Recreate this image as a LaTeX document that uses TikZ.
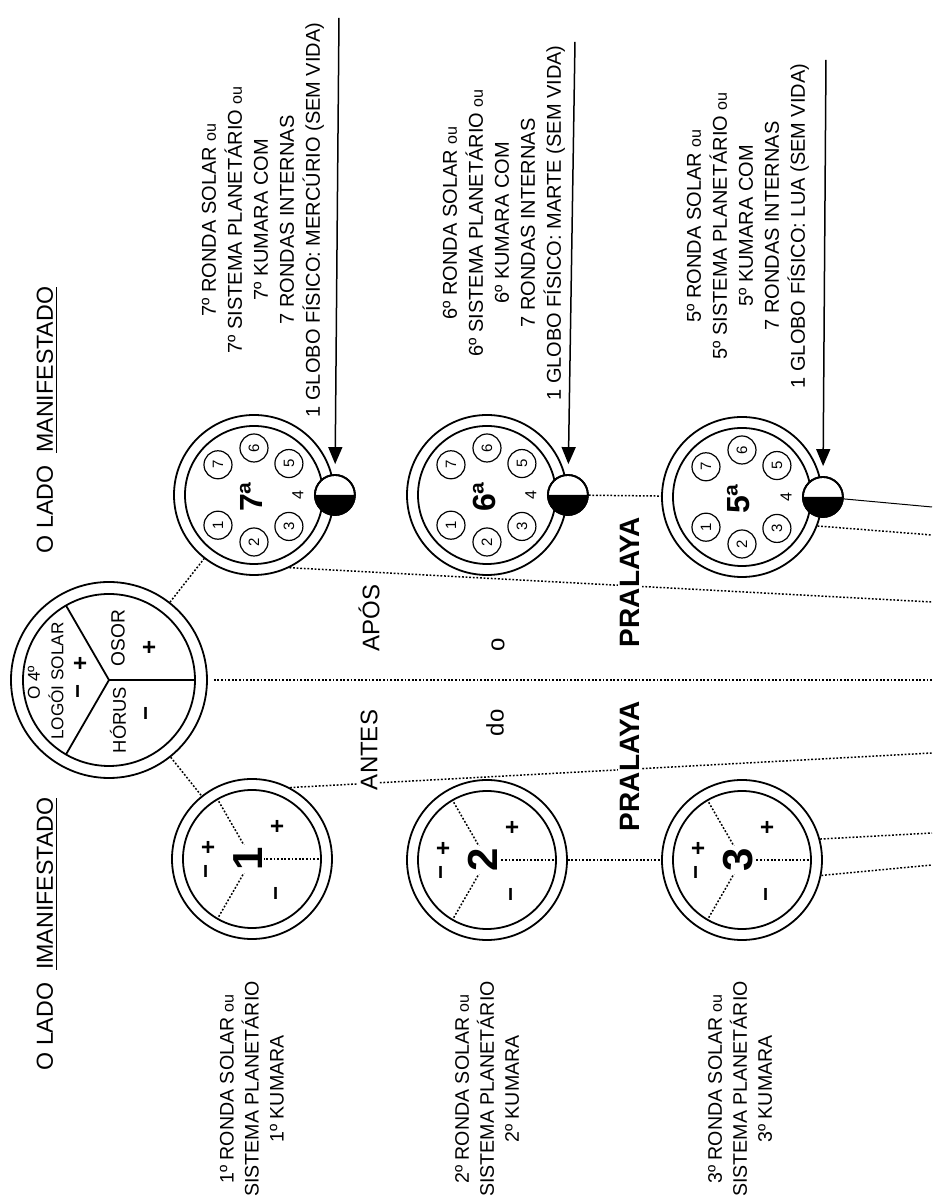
\documentclass[tikz,border=0pt]{standalone}
\usepackage{fontspec}
\setmainfont{Liberation Sans}
\usetikzlibrary{arrows.meta}
\newcommand\smallou{{\fontsize{8pt}{8pt}\selectfont ou}}
\tikzset{
  ring/.style={draw, circle, line width=0.9pt, minimum size=80pt, inner sep=0pt, fill=white},
  bigring/.style={draw, circle, line width=0.9pt, minimum size=98pt, inner sep=0pt, fill=white},
  dotl/.style={line width=0.75pt, dash pattern=on 0.9pt off 0.9pt},
  num/.style={draw, circle, line width=0.6pt, minimum size=14pt, inner sep=0pt, font=\fontsize{7.5pt}{8pt}\selectfont},
  numtxt/.style={inner sep=0pt, font=\fontsize{8pt}{8pt}\selectfont},
  bigdig/.style={inner sep=0pt, font=\bfseries\fontsize{16pt}{16pt}\selectfont},
  leftdig/.style={inner sep=1pt, fill=white, font=\bfseries\fontsize{21pt}{21pt}\selectfont},
  lbl/.style={align=center, inner sep=0pt, font=\fontsize{9.8pt}{12.5pt}\selectfont},
  rlbl/.style={align=center, inner sep=0pt, font=\fontsize{10pt}{13pt}\selectfont},
  ttl/.style={inner sep=0pt, font=\fontsize{11.6pt}{14pt}\selectfont},
  mid/.style={inner sep=1pt, fill=white, font=\fontsize{12pt}{14pt}\selectfont},
  prl/.style={inner sep=1pt, fill=white, font=\bfseries\fontsize{14pt}{16pt}\selectfont},
  sign/.style={inner sep=0pt, font=\bfseries\fontsize{12pt}{12pt}\selectfont},
  small/.style={inner sep=0pt, font=\fontsize{8.6pt}{10pt}\selectfont},
  globe/.style={draw, circle, line width=0.9pt, minimum size=20pt, inner sep=0pt, fill=white},
  arr/.style={line width=0.75pt, -{Triangle[length=8.5pt,width=7pt]}, shorten >=5pt},
}
\begin{document}
\begin{tikzpicture}[x=0.5pt,y=0.5pt]
\begin{scope}[rotate=90, transform shape]
\useasboundingbox (0,0) rectangle (1204,932);
\fill[white] (0,0) rectangle (1204,932);

% titles
\node[ttl] (t1) at (784,885) {O LADO\ \ \underline{MANIFESTADO}};
\node[ttl] (t2) at (270,885) {O LADO\ \ \underline{IMANIFESTADO}};

% central circle
\node[bigring] (C0) at (524,823) {};
\draw[line width=0.9pt] (C0.center) circle[radius=86];
\foreach \a in {30,150,270} \draw[line width=0.9pt] (C0.center) -- ++(\a:86);
\path (C0.center) ++(-3,75) node[small] (c0a) {O 4º};
\path (C0.center) ++(-1,53) node[small] (c0b) {LOGÓI SOLAR};
\path (C0.center) ++(-11,28) node[sign] (c0m) {−};
\path (C0.center) ++(17,28) node[sign] (c0p) {+};
\path (C0.center) ++(-40,-9) node[inner sep=0pt, font=\fontsize{9.2pt}{10pt}\selectfont] (hor) {HÓRUS};
\path (C0.center) ++(-33,-40) node[sign] (horm) {−};
\path (C0.center) ++(42,-9) node[inner sep=0pt, font=\fontsize{9.6pt}{10pt}\selectfont] (osor) {OSOR};
\path (C0.center) ++(33,-41) node[sign] (osorp) {+};

% small circles
\foreach \ci/\u/\v in {7/709/678, 6/709/445, 5/707/190, 1/345/680, 2/344/445, 3/344/190}
  \node[ring] (c\ci) at (\u,\v) {};
\foreach \ci in {7,6,5,1,2,3}
  \draw[line width=0.9pt] (c\ci.center) circle[radius=69];

% right circles content
\foreach \ci in {7,6,5} {
  \foreach \n/\a in {1/130,2/180,3/228,5/312,6/0,7/50}
    \path (c\ci.center) ++(\a:47) node[num] (c\ci n\n) {\n};
  \path (c\ci.center) ++(270:44) node[numtxt] (c\ci n4) {4};
  \path (c\ci.center) ++(-2,3) node[bigdig] (c\ci d) {\ci ª};
  \node[globe] (g\ci) at (c\ci.south) {};
  \fill (g\ci.center) ++(90:20) arc[start angle=90, end angle=270, radius=20] -- cycle;
  \draw[line width=0.9pt] (g\ci.center) circle[radius=20];
}

% left circles content
\foreach \ci in {1,2,3} {
  \foreach \a in {30,150,270} \draw[dotl] (c\ci.center) -- ++(\a:69);
  \path (c\ci.center) ++(0,4) node[leftdig] (c\ci d) {\ci};
  \path (c\ci.center) ++(-12,43) node[sign] (c\ci tm) {−};
  \path (c\ci.center) ++(12,43) node[sign] (c\ci tp) {+};
  \path (c\ci.center) ++(33,-26) node[sign] (c\ci rp) {+};
  \path (c\ci.center) ++(-34,-27) node[sign] (c\ci lm) {−};
}

% coordinates
\coordinate (axEnd) at (524,0);
\coordinate (rEnd) at (602,0);
\coordinate (lEnd) at (451,0);
\coordinate (g5End) at (697,0);
\coordinate (c5End) at (669,0);
\coordinate (c3aEnd) at (371,0);
\coordinate (c3bEnd) at (339,0);
\coordinate (a7) at (1186,593);
\coordinate (a6) at (1162,357);
\coordinate (a5) at (1144,106);

% connectors
\draw[dotl] (C0) -- (c7);
\draw[dotl] (C0) -- (c1);
\draw[dotl, shorten <=3pt] (C0) -- (axEnd);
\draw[dotl] (c7.206) -- (rEnd);
\draw[dotl] (c1.332) -- (lEnd);
\draw[dotl] (c2) -- (c3);
\draw[dotl] (g6) -- (c5);
\draw[line width=0.5pt] (g5) -- (g5End);
\draw[dotl] (c5.249) -- (c5End);
\draw[dotl] (c3.285) -- (c3aEnd);
\draw[dotl] (c3.259) -- (c3bEnd);
\draw[arr] (a7) -- (g7);
\draw[arr] (a6) -- (g6);
\draw[arr] (a5) -- (g5);

% middle texts
\node[mid] (apos) at (586,563) {APÓS};
\node[mid] (antes) at (454,563) {ANTES};
\node[mid] (o) at (559,434) {o};
\node[mid] (do) at (481,437) {do};
\node[prl] (pr1) at (622,302) {PRALAYA};
\node[prl] (pr2) at (438,302) {PRALAYA};

% left labels
\node[lbl] (l1) at (115,680) {1º RONDA SOLAR \smallou\\SISTEMA PLANETÁRIO\\1º KUMARA};
\node[lbl] (l2) at (115,445) {2º RONDA SOLAR \smallou\\SISTEMA PLANETÁRIO\\2º KUMARA};
\node[lbl] (l3) at (115,192) {3º RONDA SOLAR \smallou\\SISTEMA PLANETÁRIO\\3º KUMARA};

% right labels
\node[rlbl] (r7) at (984,669) {7º RONDA SOLAR \smallou\\7º SISTEMA PLANETÁRIO \smallou\\7º KUMARA COM\\7 RONDAS INTERNAS\\1 GLOBO FÍSICO: MERCÚRIO (SEM VIDA)};
\node[rlbl] (r6) at (981,428) {6º RONDA SOLAR \smallou\\6º SISTEMA PLANETÁRIO \smallou\\6º KUMARA COM\\7 RONDAS INTERNAS\\1 GLOBO FÍSICO: MARTE (SEM VIDA)};
\node[rlbl] (r5) at (978,184) {5º RONDA SOLAR \smallou\\5º SISTEMA PLANETÁRIO \smallou\\5º KUMARA COM\\7 RONDAS INTERNAS\\1 GLOBO FÍSICO: LUA (SEM VIDA)};
\end{scope}
\end{tikzpicture}
\end{document}
